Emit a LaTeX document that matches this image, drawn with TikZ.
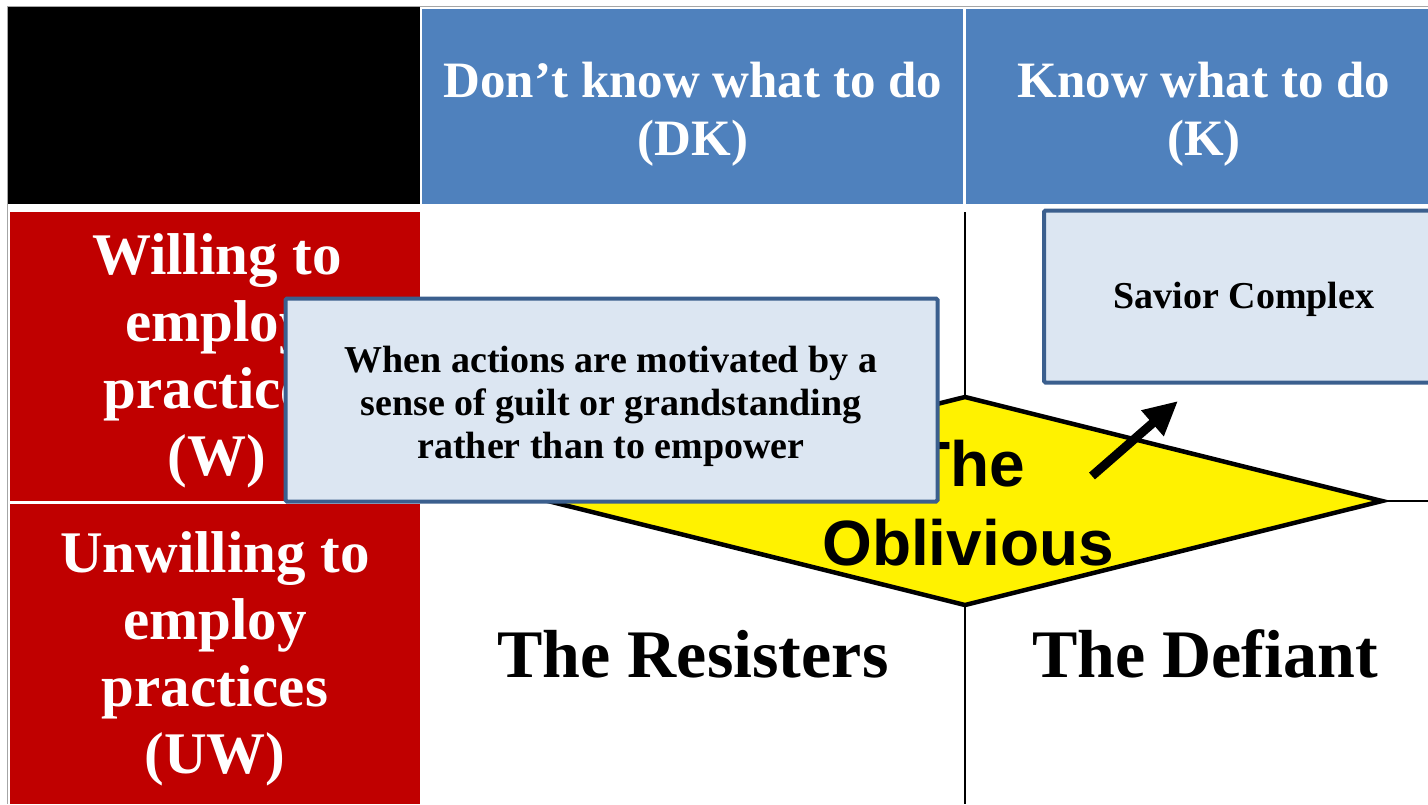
\documentclass[tikz,border=0pt]{standalone}
\usepackage{fontspec}
\setmainfont{Liberation Serif}
\newfontfamily\arialfont{Liberation Sans}
\usetikzlibrary{arrows.meta}
\definecolor{hdrblue}{HTML}{4F81BD}
\definecolor{rowred}{HTML}{C00000}
\definecolor{calfill}{HTML}{DCE6F2}
\definecolor{calline}{HTML}{3B5F8E}
\begin{document}
\begin{tikzpicture}[x=1pt,y=-1pt,
  hdrtext/.style={text=white,align=center,font=\fontsize{51}{58}\selectfont\bfseries,inner sep=0pt},
  rowtext/.style={text=white,align=center,font=\fontsize{59}{67}\selectfont\bfseries,inner sep=0pt},
  celltext/.style={text=black,align=center,font=\fontsize{68}{76}\selectfont\bfseries,inner sep=0pt},
  caltext/.style={text=black,align=center,font=\fontsize{38}{43}\selectfont\bfseries,inner sep=0pt},
  calbox/.style={fill=calfill,draw=calline,line width=4pt,rounded corners=1.5pt},
  gridline/.style={draw=black,line width=1.5pt}]
\useasboundingbox (0,0) rectangle (1428,804);
\fill[white] (0,0) rectangle (1428,804);
% frame lines
\draw[gray!70,line width=1pt] (7.5,804) -- (7.5,6) -- (1428,6);
% header row
\fill[black] (8,7) rectangle (420,204);
\fill[hdrblue] (422,9) rectangle (963,204);
\fill[hdrblue] (966,9) rectangle (1428,204);
% row labels
\fill[rowred] (10,212) rectangle (420,501);
\fill[rowred] (10,504) rectangle (420,804);
% grid lines
\coordinate (gtop) at (965,212);
\coordinate (gbot) at (965,804);
\coordinate (gright) at (1428,501);
% diamond
\coordinate (dT) at (965,397);
\coordinate (dR) at (1382,501);
\coordinate (dB) at (965,605);
\coordinate (dL) at (548,501);
\draw[gridline] (gtop) -- (dT);
\draw[gridline] (dB) -- (gbot);
\draw[gridline] (dR) -- (gright);
\draw[fill=yellow,draw=black,line width=4.5pt,line join=miter] (dT) -- (dR) -- (dB) -- (dL) -- cycle;
\node[text=black,align=center,inner sep=0pt,font=\fontsize{64}{79}\arialfont\bfseries\selectfont] (obl) at (968,503) {The\\Oblivious};
% headers
\node[hdrtext] (dk) at (693,114) {Don’t know what to do\\(DK)};
\node[hdrtext] (k) at (1204,114) {Know what to do\\(K)};
\node[rowtext] (w) at (217,361) {Willing to\\employ\\practices\\(W)};
\node[rowtext] (uw) at (215,659) {Unwilling to\\employ\\practices\\(UW)};
% cells
\node[celltext,anchor=base] (res) at (693,677) {The Resisters};
\node[celltext,anchor=base] (def) at (1205,677) {The Defiant};
% callouts
\node[calbox,minimum width=652pt,minimum height=203pt,inner sep=0pt] (c1) at (611.5,400) {};
\node[caltext] (c1t) at (611,406) {When actions are motivated by a\\sense of guilt or grandstanding\\rather than to empower};
\node[calbox,minimum width=420pt,minimum height=172pt,inner sep=0pt] (c2) at (1254,296.5) {};
\node[caltext] (c2t) at (1244,299) {Savior Complex};
% arrow
\coordinate (atail) at (1092,476);
\coordinate (ahead) at (1178,401);
\draw[line width=9pt,-{Triangle[length=34pt,width=32pt]}] (atail) -- (ahead);
\end{tikzpicture}
\end{document}
